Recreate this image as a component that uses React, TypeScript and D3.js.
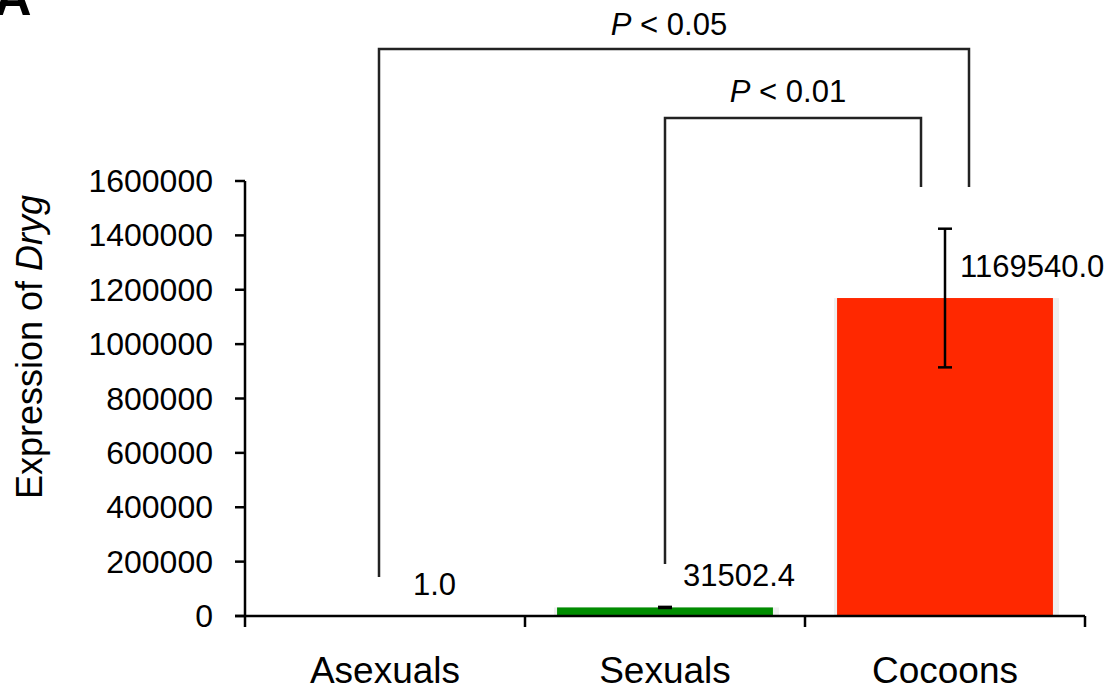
import React, { useEffect } from "react";
import * as d3 from "d3";

const categories = ["Asexuals", "Sexuals", "Cocoons"];
const values = [1.0, 31502.4, 1169540.0];
const errors = [0, 2000, 255000];
const valueLabels = ["1.0", "31502.4", "1169540.0"];
const barColors = ["#008c00", "#008c00", "#ff2800"];
const yTicks = [0, 200000, 400000, 600000, 800000, 1000000, 1200000, 1400000, 1600000];
const comparisons = [
  { from: "Asexuals", to: "Cocoons", label: "0.05" },
  { from: "Sexuals", to: "Cocoons", label: "0.01" },
];

const W = 1118;
const H = 695;
const M = { left: 245, right: 1085, top: 181, bottom: 616 };
const FONT = "'Liberation Sans', Arial, Helvetica, sans-serif";

// styling for brackets (pixel layout)
const bracketStyle = [
  { y: 49, leftDx: -6, rightDx: 24, leftBottom: 577, rightBottom: 187, textY: 35 },
  { y: 118, leftDx: 0, rightDx: -24, leftBottom: 564, rightBottom: 187, textY: 102 },
];
const labelDx = [28, 18, 15];

export default function App() {
  useEffect(() => {
    document.body.style.margin = "0";
  }, []);

  const x = d3
    .scaleBand<string>()
    .domain(categories)
    .range([M.left, M.right])
    .paddingInner(0.229)
    .paddingOuter(0.1145);
  const y = d3.scaleLinear().domain([0, 1600000]).range([M.bottom, M.top]);
  const step = x.step();
  const bw = x.bandwidth();
  const center = (c: string) => (x(c) as number) + bw / 2;
  const boundaries = [M.left, ...categories.map((c) => center(c) + step / 2)];
  const fmt = d3.format("d");
  const axisW = 2.5;

  return (
    <svg width={W} height={H} style={{ display: "block", background: "#fff" }} fontFamily={FONT}>
      {/* panel letter, cut off */}
      <text x={-6} y={15} fontSize={52} fontWeight="bold" fill="#000">A</text>

      {/* bars */}
      {categories.map((c, i) => {
        const top = y(values[i]);
        return (
          <g key={c}>
            <rect x={(x(c) as number) - 3} y={top} width={bw + 9} height={M.bottom - top} fill="#efefef" />
            <rect x={x(c) as number} y={top} width={bw} height={M.bottom - top} fill={barColors[i]} />
          </g>
        );
      })}

      {/* error bars */}
      {categories.map((c, i) =>
        errors[i] > 0 ? (
          <g key={"e" + c} stroke="#000" strokeWidth={2.5}>
            <line x1={center(c)} x2={center(c)} y1={y(values[i] + errors[i])} y2={y(values[i] - errors[i])} />
            <line x1={center(c) - 7} x2={center(c) + 7} y1={y(values[i] + errors[i])} y2={y(values[i] + errors[i])} />
            <line x1={center(c) - 7} x2={center(c) + 7} y1={y(values[i] - errors[i])} y2={y(values[i] - errors[i])} />
          </g>
        ) : null
      )}

      {/* value labels */}
      {categories.map((c, i) => (
        <text key={"v" + c} x={center(c) + labelDx[i]} y={y(values[i]) - 21} fontSize={31} fill="#000">
          {valueLabels[i]}
        </text>
      ))}

      {/* y axis */}
      <line x1={M.left} x2={M.left} y1={M.top} y2={M.bottom} stroke="#000" strokeWidth={axisW} />
      {yTicks.map((t) => (
        <g key={t}>
          <line x1={M.left - 10} x2={M.left} y1={y(t)} y2={y(t)} stroke="#000" strokeWidth={axisW} />
          <text x={M.left - 32} y={y(t) + 11} fontSize={32} textAnchor="end" fill="#000">
            {fmt(t)}
          </text>
        </g>
      ))}

      {/* x axis */}
      <line x1={M.left - 10} x2={M.right} y1={M.bottom} y2={M.bottom} stroke="#000" strokeWidth={axisW} />
      {boundaries.map((b, i) => (
        <line key={i} x1={b} x2={b} y1={M.bottom} y2={M.bottom + 11} stroke="#000" strokeWidth={axisW} />
      ))}
      {categories.map((c) => (
        <text key={"c" + c} x={center(c)} y={683} fontSize={37} textAnchor="middle" fill="#000">
          {c}
        </text>
      ))}

      {/* y label */}
      <text transform={`translate(42,${347}) rotate(-90)`} fontSize={36} textAnchor="middle" fill="#000">
        Expression of <tspan fontStyle="italic">Dryg</tspan>
      </text>

      {/* significance brackets */}
      {comparisons.map((cmp, i) => {
        const s = bracketStyle[i];
        const xl = center(cmp.from) + s.leftDx;
        const xr = center(cmp.to) + s.rightDx;
        return (
          <g key={"b" + i}>
            <path
              d={`M${xl},${s.leftBottom}V${s.y}H${xr}V${s.rightBottom}`}
              fill="none"
              stroke="#222"
              strokeWidth={2.5}
            />
            <text x={(xl + xr) / 2 - 5} y={s.textY} fontSize={31} textAnchor="middle" fill="#000">
              <tspan fontStyle="italic">P</tspan> &lt; {cmp.label}
            </text>
          </g>
        );
      })}
    </svg>
  );
}
